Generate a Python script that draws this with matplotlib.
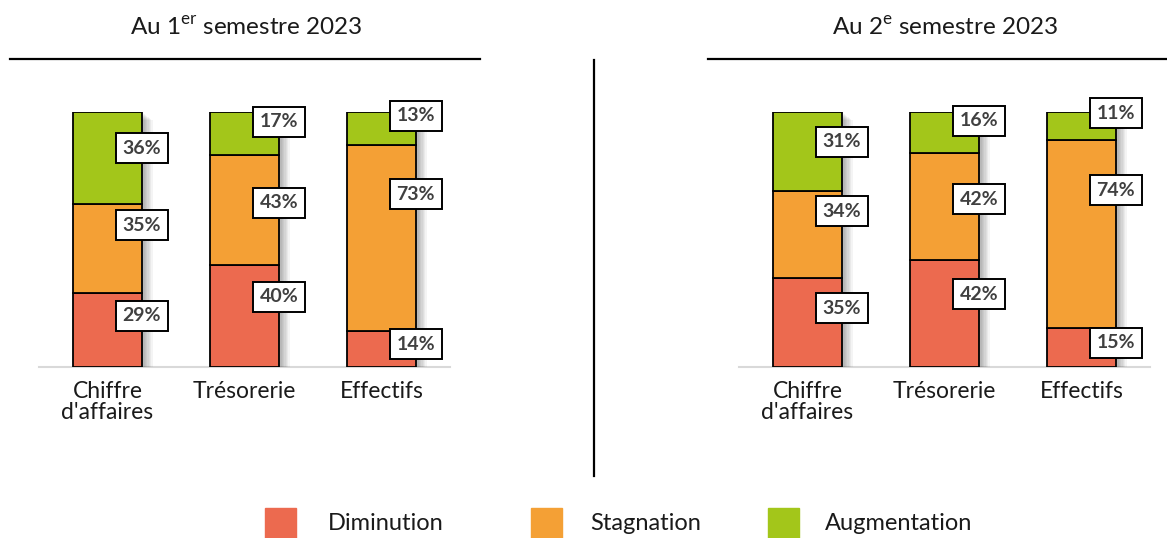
import matplotlib
matplotlib.use("Agg")
import matplotlib.pyplot as plt
import matplotlib.patheffects as pe
from matplotlib.lines import Line2D
from matplotlib.patches import Rectangle
import numpy as np

plt.rcParams['font.family'] = ['Lato', 'DejaVu Sans']
plt.rcParams['mathtext.fontset'] = 'custom'
plt.rcParams['mathtext.rm'] = 'Lato'

# data
categories = ["Chiffre\nd'affaires", "Trésorerie", "Effectifs"]
series = ["Diminution", "Stagnation", "Augmentation"]
s1_dim = [29, 40, 14]
s1_stag = [35, 43, 73]
s1_aug = [36, 17, 13]
s2_dim = [35, 42, 15]
s2_stag = [34, 42, 74]
s2_aug = [31, 16, 11]
titles = [r"Au 1$^{\mathrm{er}}$ semestre 2023", r"Au 2$^{\mathrm{e}}$ semestre 2023"]

colors = ['#EC6A4F', '#F4A035', '#A3C61A']
# label nudges above segment centre (data units), same for both panels
label_nudge = [[5.5, 7.4, 1.9], [9.1, 2.8, 17.3], [3.8, 4.6, 5.0]]

W, H = 1167, 538
fig = plt.figure(figsize=(W / 100, H / 100), dpi=100)

shadow = [pe.SimplePatchShadow(offset=(o, -o * 0.7), shadow_rgbFace='k', alpha=0.045)
          for o in (1, 2, 3, 4, 5, 6, 7, 8)] + [pe.Normal()]


def panel(x0px, vals):
    ax = fig.add_axes([x0px / W, (538 - 366.7) / H, 411 / W, 254.7 / H])
    x = np.arange(len(categories))
    bw = 0.5
    totals = np.sum(vals, axis=0)
    ax.bar(x, totals, bw, color='white', zorder=1, path_effects=shadow)
    bottom = np.zeros(len(categories))
    for i, v in enumerate(vals):
        ax.bar(x, v, bw, bottom=bottom, color=colors[i], edgecolor='black',
               linewidth=1.3, zorder=2)
        for j in range(len(x)):
            ax.text(x[j] + bw / 2, bottom[j] + v[j] / 2 + label_nudge[i][j],
                    f"{v[j]}%", ha='center', va='center', fontsize=14,
                    fontweight='bold', color='#404040', zorder=5, clip_on=False,
                    bbox=dict(boxstyle='square,pad=0.34', fc='white', ec='black', lw=1.4))
        bottom += np.array(v)
    ax.set_xlim(-0.5, 2.5)
    ax.set_ylim(0, 100)
    for s in ['left', 'right', 'top']:
        ax.spines[s].set_visible(False)
    ax.spines['bottom'].set_color('#D9D9D9')
    ax.spines['bottom'].set_linewidth(1.5)
    ax.spines['bottom'].set_zorder(0)
    ax.set_yticks([])
    ax.set_xticks(x)
    ax.set_xticklabels(categories, fontsize=16.5, color='#1a1a1a', linespacing=1.0)
    ax.tick_params(axis='x', length=0, pad=10)
    ax.patch.set_visible(False)
    return ax


panel(39, [s1_dim, s1_stag, s1_aug])
panel(739, [s2_dim, s2_stag, s2_aug])

# titles and rules
for cx, t in zip([246, 945], titles):
    fig.text(cx / W, 1 - 28 / H, t, ha='center', va='center', fontsize=17.5, color='#1a1a1a')
fig.add_artist(Line2D([10 / W, 480 / W], [1 - 58.5 / H] * 2, color='black', lw=1.6))
fig.add_artist(Line2D([708 / W, 1167 / W], [1 - 58.5 / H] * 2, color='black', lw=1.6))
fig.add_artist(Line2D([594 / W] * 2, [1 - 60 / H, 1 - 476 / H], color='black', lw=1.6))

# legend
leg_sq = [265, 531, 768]
leg_tx = [328, 590, 825]
for i, name in enumerate(series):
    fig.add_artist(Rectangle((leg_sq[i] / W, 0), 31 / W, 30 / H, color=colors[i],
                             transform=fig.transFigure))
    fig.text(leg_tx[i] / W, 1 - 523 / H, name, ha='left', va='center', fontsize=17, color='#1a1a1a')

fig.savefig('out.png', dpi=100)
